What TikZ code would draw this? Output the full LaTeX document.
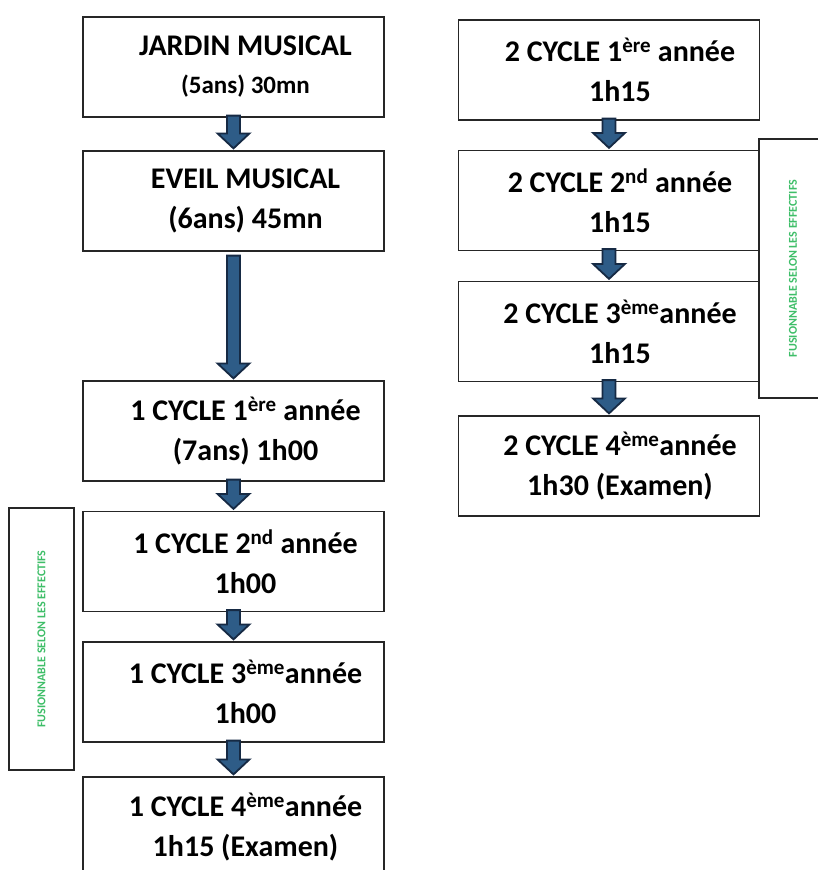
\documentclass[tikz,border=0pt]{standalone}
\usepackage{fontspec}
\setmainfont{Carlito}
\usetikzlibrary{calc,positioning}
\definecolor{arrowline}{RGB}{22,42,68}
\definecolor{arrowfill}{RGB}{46,92,135}
\definecolor{mergegreen}{RGB}{62,190,104}

\tikzset{
  stagebox/.style={draw=black!85, line width=1.2pt, minimum width=301pt, minimum height=100pt, inner sep=0pt},
  stagetext/.style={xshift=12pt, align=center, font=\bfseries\fontsize{30}{40}\selectfont},
  mergebox/.style={draw=black!85, line width=1.2pt, inner sep=0pt},
  mergetext/.style={text=mergegreen, rotate=90, font=\bfseries\fontsize{12}{14}\selectfont},
  blockarrow/.style={draw=arrowline, fill=arrowfill, line width=1.8pt, line join=miter}
}

% block arrow from the bottom of one box to the top of the next
\newcommand{\flowarrow}[3][2]{%
  \filldraw[blockarrow] let \p1=(#2.south), \p2=(#3.north) in
    (\x1-6.5,\y1+#1) -- (\x1+6.5,\y1+#1) -- (\x1+6.5,\y2+17) -- (\x1+16,\y2+17)
    -- (\x1,\y2+2) -- (\x1-16,\y2+17) -- (\x1-6.5,\y2+17) -- cycle;}

\begin{document}
\begin{tikzpicture}[x=1pt, y=-1pt]
  \useasboundingbox[fill=white] (0,0) rectangle (817,870);

  % first cycle column
  \node[stagebox, label={[stagetext]center:JARDIN MUSICAL\\[-2pt]{\fontsize{25}{30}\selectfont (5ans) 30mn}}] (jardin) at (233.5,67) {};
  \node[stagebox, label={[stagetext]center:EVEIL MUSICAL\\(6ans) 45mn}] (eveil) at (233.5,201) {};
  \node[stagebox, label={[stagetext]center:1 CYCLE 1\textsuperscript{ère} année\\(7ans) 1h00}] (cyA1) at (233.5,431) {};
  \node[stagebox, label={[stagetext]center:1 CYCLE 2\textsuperscript{nd} année\\1h00}] (cyA2) at (233.5,561.5) {};
  \node[stagebox, label={[stagetext]center:1 CYCLE 3\textsuperscript{ème}année\\1h00}] (cyA3) at (233.5,692) {};
  \node[stagebox, label={[stagetext]center:1 CYCLE 4\textsuperscript{ème}année\\1h15 (Examen)}] (cyA4) at (233.5,827) {};

  % second cycle column
  \node[stagebox, label={[stagetext, xshift=-1pt]center:2 CYCLE 1\textsuperscript{ère} année\\1h15}] (cyB1) at (609,70) {};
  \node[stagebox, label={[stagetext, xshift=-1pt]center:2 CYCLE 2\textsuperscript{nd} année\\1h15}] (cyB2) at (609,200.5) {};
  \node[stagebox, label={[stagetext, xshift=-1pt]center:2 CYCLE 3\textsuperscript{ème}année\\1h15}] (cyB3) at (609,331.5) {};
  \node[stagebox, label={[stagetext, xshift=-1pt]center:2 CYCLE 4\textsuperscript{ème}année\\1h30 (Examen)}] (cyB4) at (609,466) {};

  % side notes
  \node[mergebox, minimum width=65pt, minimum height=262pt] (mergeA) at (41.5,639) {};
  \node[mergetext] (mergeAt) at (mergeA.center) {FUSIONNABLE SELON LES EFFECTIFS};
  \node[mergebox, minimum width=68pt, minimum height=259pt] (mergeB) at (793,268.5) {};
  \node[mergetext] (mergeBt) at (mergeB.center) {FUSIONNABLE SELON LES EFFECTIFS};

  % arrows
  \flowarrow{jardin}{eveil}
  \flowarrow[-4]{eveil}{cyA1}
  \flowarrow{cyA1}{cyA2}
  \flowarrow{cyA2}{cyA3}
  \flowarrow{cyA3}{cyA4}
  \flowarrow{cyB1}{cyB2}
  \flowarrow{cyB2}{cyB3}
  \flowarrow{cyB3}{cyB4}
\end{tikzpicture}
\end{document}
